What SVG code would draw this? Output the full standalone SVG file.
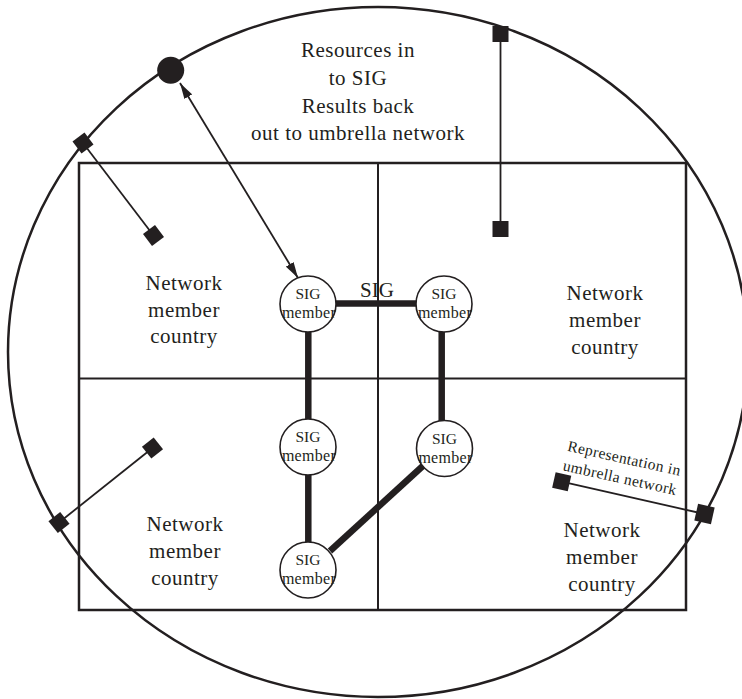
<svg xmlns="http://www.w3.org/2000/svg" width="742" height="699" viewBox="0 0 742 699">
  <style>
    .ink { stroke: #231f20; fill: none; }
    .solid { fill: #231f20; stroke: none; }
    .txt { font-family: "Liberation Serif", "Times New Roman", serif; fill: #231f20; text-anchor: middle; }
    .big { font-size: 21px; letter-spacing: 0.5px; }
    .small { font-size: 15.5px; }
    .mem { font-size: 16px; letter-spacing: 0.3px; }
    .member { fill: #ffffff; stroke: #231f20; stroke-width: 1.6; }
    .sigline { stroke: #231f20; stroke-width: 6.5; fill: none; }
    .link { stroke: #231f20; stroke-width: 1.8; fill: none; }
  </style>
  <defs>
    <marker id="arrow" viewBox="0 0 16 9" refX="16" refY="4.5" markerWidth="16" markerHeight="9" markerUnits="userSpaceOnUse" orient="auto-start-reverse">
      <path d="M0,0 L16,4.5 L0,9 z" fill="#231f20"/>
    </marker>
  </defs>

  <!-- umbrella network boundary -->
  <g id="umbrella">
    <ellipse class="ink" cx="378" cy="352" rx="370" ry="345" stroke-width="2.5"/>
  </g>

  <!-- country grid -->
  <g id="countries">
    <rect class="ink" x="79" y="163" width="607" height="447" stroke-width="2.5"/>
    <line class="ink" x1="378" y1="163" x2="378" y2="610" stroke-width="2"/>
    <line class="ink" x1="79" y1="378.5" x2="686" y2="378.5" stroke-width="2"/>
  </g>

  <!-- connectors -->
  <g id="connectors">
    <!-- SIG links -->
    <line class="sigline" x1="336" y1="303.5" x2="418" y2="303.5"/>
    <line class="sigline" x1="308.3" y1="331" x2="308.3" y2="420"/>
    <line class="sigline" x1="441.7" y1="331" x2="441.7" y2="422"/>
    <line class="sigline" x1="308.3" y1="474" x2="308.3" y2="543"/>
    <line class="sigline" x1="425" y1="464" x2="330" y2="551"/>
    <!-- resources / results exchange -->
    <line class="link" x1="180" y1="83" x2="298" y2="278" stroke-width="1.6" marker-start="url(#arrow)" marker-end="url(#arrow)"/>
    <!-- country links to umbrella -->
    <line class="link" x1="83" y1="143" x2="153.5" y2="235.5"/>
    <line class="link" x1="500.5" y1="34" x2="500.5" y2="229"/>
    <line class="link" x1="59" y1="522.5" x2="152.5" y2="448"/>
    <line class="link" x1="561.7" y1="481.7" x2="704.5" y2="514"/>
  </g>

  <!-- endpoints -->
  <g id="endpoints">
    <circle class="solid" cx="170.7" cy="70.3" r="13.5"/>
    <rect class="solid" x="-7.5" y="-7.5" width="15" height="15" transform="translate(83 143) rotate(53)"/>
    <rect class="solid" x="-7.5" y="-7.5" width="15" height="15" transform="translate(153.5 235.5) rotate(53)"/>
    <rect class="solid" x="492.5" y="26" width="16" height="16"/>
    <rect class="solid" x="492.5" y="221" width="16" height="16"/>
    <rect class="solid" x="-7.5" y="-7.5" width="15" height="15" transform="translate(59 522.5) rotate(-38.6)"/>
    <rect class="solid" x="-7.5" y="-7.5" width="15" height="15" transform="translate(152.5 448) rotate(-38.6)"/>
    <rect class="solid" x="-8" y="-8" width="16" height="16" transform="translate(561.7 481.7) rotate(12.7)"/>
    <rect class="solid" x="-8.5" y="-8.5" width="17" height="17" transform="translate(704.5 514) rotate(12.7)"/>
  </g>

  <!-- SIG members -->
  <g id="member-tl">
    <circle class="member" cx="308" cy="304" r="28"/>
    <text class="txt small" x="308" y="299">SIG</text>
    <text class="txt mem" x="309" y="318">member</text>
  </g>
  <g id="member-tr">
    <circle class="member" cx="444" cy="304" r="28"/>
    <text class="txt small" x="444" y="299">SIG</text>
    <text class="txt mem" x="445" y="318">member</text>
  </g>
  <g id="member-ml">
    <circle class="member" cx="308" cy="447" r="28"/>
    <text class="txt small" x="308" y="442">SIG</text>
    <text class="txt mem" x="309" y="461">member</text>
  </g>
  <g id="member-mr">
    <circle class="member" cx="444.5" cy="448.5" r="28"/>
    <text class="txt small" x="444.5" y="443.5">SIG</text>
    <text class="txt mem" x="445.5" y="462.5">member</text>
  </g>
  <g id="member-bl">
    <circle class="member" cx="308" cy="570" r="28"/>
    <text class="txt small" x="308" y="565">SIG</text>
    <text class="txt mem" x="309" y="584">member</text>
  </g>

  <!-- labels -->
  <g id="sig-label">
    <text class="txt" x="377" y="297" font-size="21">SIG</text>
  </g>
  <g id="flow-label">
    <text class="txt big" x="358" y="57">Resources in</text>
    <text class="txt big" x="358" y="85">to SIG</text>
    <text class="txt big" x="358" y="112.5">Results back</text>
    <text class="txt big" x="358" y="140">out to umbrella network</text>
  </g>
  <g id="country-tl">
    <text class="txt big" x="184" y="290">Network</text>
    <text class="txt big" x="184" y="317">member</text>
    <text class="txt big" x="184" y="343">country</text>
  </g>
  <g id="country-tr">
    <text class="txt big" x="605" y="300">Network</text>
    <text class="txt big" x="605" y="327">member</text>
    <text class="txt big" x="605" y="354">country</text>
  </g>
  <g id="country-bl">
    <text class="txt big" x="185" y="531">Network</text>
    <text class="txt big" x="185" y="558">member</text>
    <text class="txt big" x="185" y="585">country</text>
  </g>
  <g id="country-br">
    <text class="txt big" x="602" y="537">Network</text>
    <text class="txt big" x="602" y="564">member</text>
    <text class="txt big" x="602" y="591">country</text>
  </g>
  <g id="representation-label" transform="translate(621 473) rotate(12.5)">
    <text class="txt" x="0" y="-10" font-size="15.5" letter-spacing="0.4">Representation in</text>
    <text class="txt" x="0" y="10" font-size="15.5" letter-spacing="0.4">umbrella network</text>
  </g>
</svg>
